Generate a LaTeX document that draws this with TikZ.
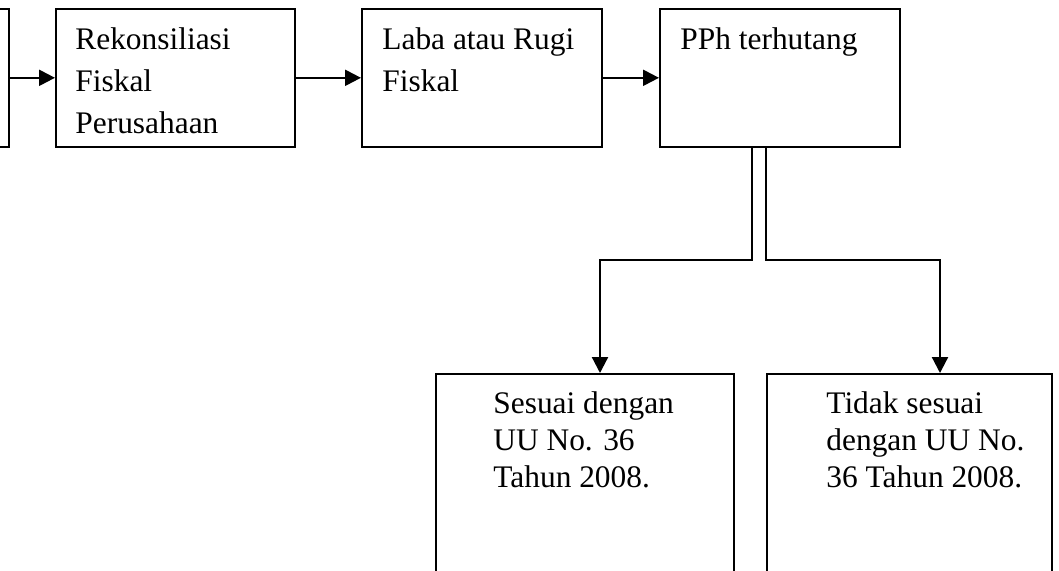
\documentclass[tikz,border=0pt]{standalone}
\usepackage{fontspec}
\setmainfont{Liberation Serif}
\usetikzlibrary{arrows.meta,calc}

\begin{document}
\begin{tikzpicture}[x=0.5pt,y=-0.5pt,
    box/.style={draw, line width=0.8pt, inner sep=0pt},
    lbl/.style={anchor=north west, inner sep=0pt, align=left, font=\fontsize{15.7}{21}\selectfont},
    lblb/.style={lbl, font=\fontsize{15.7}{18.5}\selectfont},
    arr/.style={line width=1.1pt, -{Triangle[length=8pt,width=8pt]}}]
    % 0. area of the picture
    \clip (0,0) rectangle (1059,570);

    % 1. top row of boxes
    \node[box, minimum width=60pt, minimum height=69pt, anchor=north east] (awal) at (10,8) {};
    \node[box, minimum width=119.5pt, minimum height=69pt, anchor=north west] (rek) at (55,8) {};
    \node[box, minimum width=120pt, minimum height=69pt, anchor=north west] (laba) at (361,8) {};
    \node[box, minimum width=120pt, minimum height=69pt, anchor=north west] (pph) at (659,8) {};

    \node[lbl] (rekT) at (75,27) {Rekonsiliasi\\Fiskal\\Perusahaan};
    \node[lbl] (labaT) at (382,27) {Laba atau Rugi\\Fiskal};
    \node[lbl] (pphT) at (680,27) {PPh terhutang};

    % 2. arrows between the top boxes
    \draw[arr] (awal.east) -- (rek.west);
    \draw[arr] (rek.east) -- (laba.west);
    \draw[arr] (laba.east) -- (pph.west);

    % 3. bottom boxes (cut off at the lower edge)
    \node[box, minimum width=149pt, minimum height=120pt, anchor=north west] (sesuai) at (435,373) {};
    \node[box, minimum width=142.5pt, minimum height=120pt, anchor=north west] (tidak) at (766,373) {};

    \node[lblb] (sesuaiT) at (493,391) {Sesuai dengan\\UU No. 36\\Tahun 2008.};
    \node[lblb] (tidakT) at (826,391) {Tidak sesuai\\dengan UU No.\\36 Tahun 2008.};

    % 4. split from PPh terhutang
    \coordinate (sL) at ($(pph.south west)+(93,0)$);
    \coordinate (sR) at ($(pph.south west)+(107,0)$);
    \coordinate (kL) at (600,260);
    \coordinate (kR) at (940,260);
    \draw[arr] (sL) |- (kL) -- (kL |- sesuai.north);
    \draw[arr] (sR) |- (kR) -- (kR |- tidak.north);
\end{tikzpicture}
\end{document}
